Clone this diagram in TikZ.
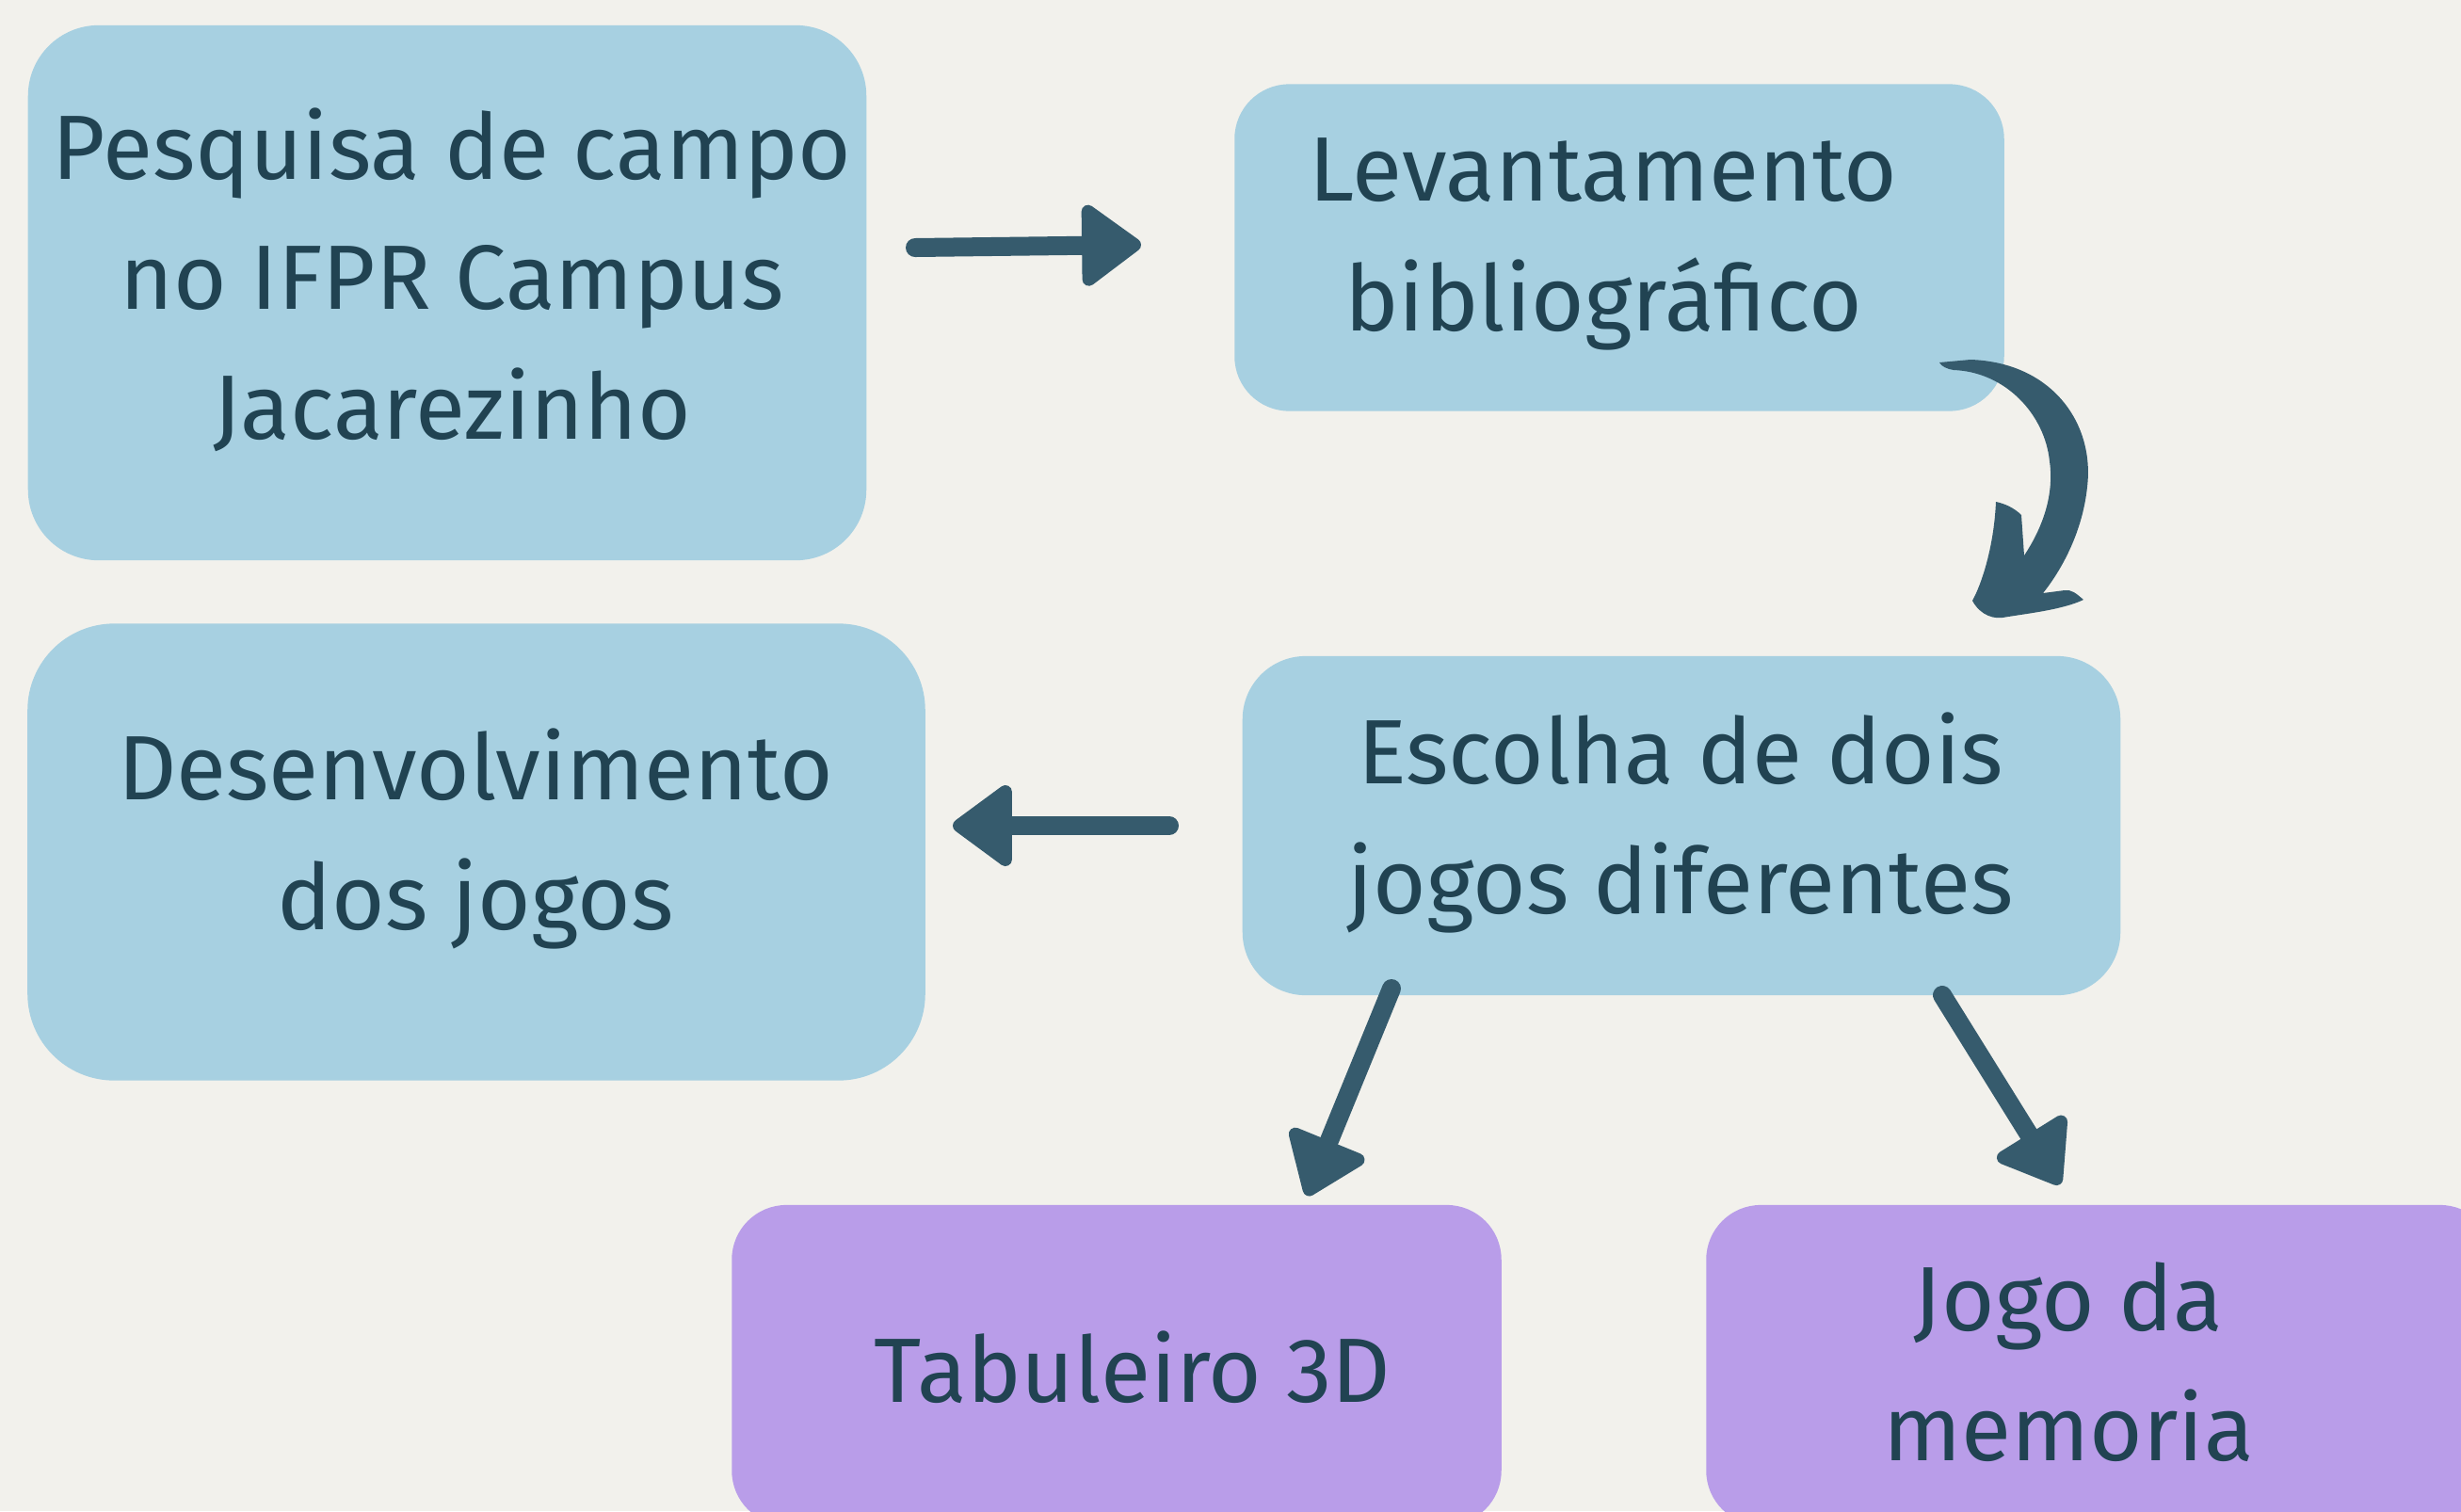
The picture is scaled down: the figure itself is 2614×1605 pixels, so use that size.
\documentclass[tikz,border=0pt]{standalone}
\usepackage{fontspec}
\setmainfont{Fira Sans}
\usetikzlibrary{arrows.meta,positioning}
\definecolor{bgcol}{HTML}{F2F1EC}
\definecolor{boxblue}{HTML}{A7D0E1}
\definecolor{boxlilac}{HTML}{B99DE9}
\definecolor{arrowcol}{HTML}{365B6D}
\definecolor{textcol}{HTML}{214352}
\tikzset{
stage/.style = {fill=boxblue, rectangle, inner sep=0pt},
game/.style  = {fill=boxlilac, rectangle, inner sep=0pt},
txt/.style   = {align=center, text=textcol, inner sep=0pt,
  font=\fontsize{27.6}{39.2}\selectfont},
link/.style  = {draw=arrowcol, line width=0.2cm, line cap=round,
  -{Triangle[length=0.68cm, width=0.96cm, round, line width=0.14cm]}}
}
\begin{document}
\begin{tikzpicture}[x=0.01cm, y=-0.01cm]
  \useasboundingbox (0,0) rectangle (2614,1605);
  \fill [bgcol] (0,0) rectangle (2614,1605);

  % boxes
  \node [stage, minimum width=8.9cm, minimum height=5.68cm, rounded corners=0.75cm]  (campo)   at (475,311)   {};
  \node [stage, minimum width=8.17cm, minimum height=3.47cm, rounded corners=0.58cm] (biblio)  at (1720,263)  {};
  \node [stage, minimum width=9.53cm, minimum height=4.85cm, rounded corners=0.92cm] (desenv)  at (506,905)   {};
  \node [stage, minimum width=9.32cm, minimum height=3.6cm, rounded corners=0.67cm]  (escolha) at (1786,877)  {};
  \node [game, minimum width=8.17cm, minimum height=3.4cm, rounded corners=0.58cm]   (tabul)   at (1186,1450) {};
  \node [game, minimum width=8.37cm, minimum height=3.4cm, rounded corners=0.58cm]   (memo)    at (2231,1450) {};

  % texts
  \node [txt] (campotxt)   at (480,297)   {Pesquisa de campo\\no IFPR Campus\\Jacarezinho};
  \node [txt] (bibliotxt)  at (1703,259)  {Levantamento\\bibliográfico};
  \node [txt] (desenvtxt)  at (505,891)   {Desenvolvimento\\dos jogos};
  \node [txt] (escolhatxt) at (1785,874)  {Escolha de dois\\jogos diferentes};
  \node [txt] (tabultxt)   at (1203,1452) {Tabuleiro 3D};
  \node [txt] (memotxt)    at (2197,1447) {Jogo da\\memoria};

  \coordinate (a1s) at (972,263);   \coordinate (a1e) at (1212,260);
  \coordinate (a2s) at (1242,877);  \coordinate (a2e) at (1012,877);
  \coordinate (a3s) at (1478,1050); \coordinate (a3e) at (1388,1270);
  \coordinate (a4s) at (2063,1057); \coordinate (a4e) at (2188,1258);

  \draw [link] (a1s) -- (a1e);
  \draw [link] (a2s) -- (a2e);
  \draw [link] (a3s) -- (a3e);
  \draw [link] (a4s) -- (a4e);

  % curved hand-drawn arrow
  \fill [arrowcol] (2060,385) -- (2093,382)
    .. controls (2180,385) and (2225,450) .. (2217,517)
    .. controls (2212,565) and (2190,605) .. (2170,630)
    -- (2193,627) .. controls (2200,626) and (2205,630) .. (2213,637)
    .. controls (2190,648) and (2150,652) .. (2127,656)
    .. controls (2112,658) and (2100,648) .. (2095,638)
    .. controls (2105,620) and (2118,580) .. (2120,533)
    .. controls (2130,535) and (2140,540) .. (2147,547)
    -- (2150,590)
    .. controls (2170,560) and (2182,525) .. (2177,490)
    .. controls (2172,440) and (2130,395) .. (2075,393)
    .. controls (2068,392) and (2062,389) .. (2060,385) -- cycle;
\end{tikzpicture}
\end{document}
